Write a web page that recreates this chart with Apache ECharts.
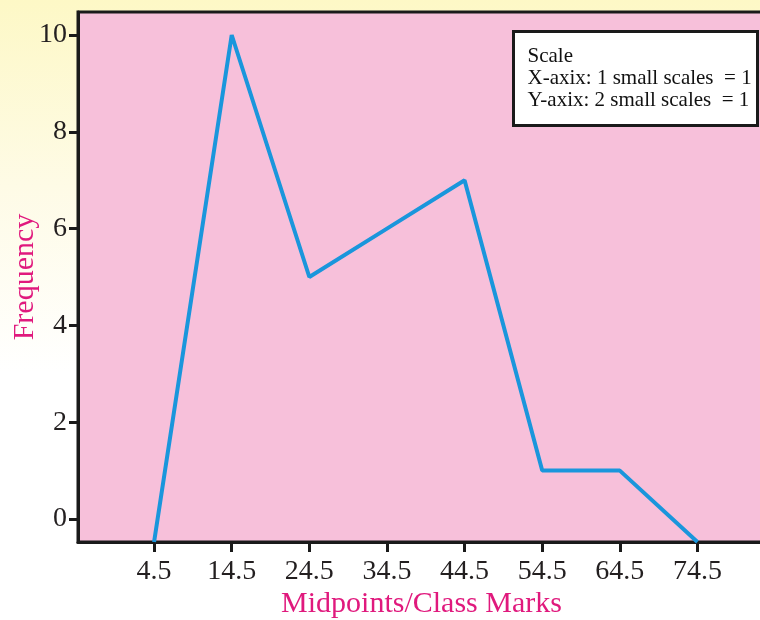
<!DOCTYPE html>
<html>
<head>
<meta charset="utf-8">
<script src="https://cdn.jsdelivr.net/npm/echarts@6/dist/echarts.min.js"></script>
<style>
html,body{margin:0;padding:0;}
#chart{width:760px;height:620px;}
</style>
</head>
<body>
<div id="chart"></div>
<script>
// Data
const midpoints = [4.5, 14.5, 24.5, 34.5, 44.5, 54.5, 64.5, 74.5];
const frequency = [-0.475, 10, 5, 6, 7, 1, 1, -0.475];
const xTicks = [4.5, 14.5, 24.5, 34.5, 44.5, 54.5, 64.5, 74.5];
const yTicks = [0, 2, 4, 6, 8, 10];
const xName = 'Midpoints/Class Marks';
const yName = 'Frequency';
const scaleLines = ['Scale', 'X-axix: 1 small scales  = 1', 'Y-axix: 2 small scales  = 1'];

const serif = '"Liberation Serif", "DejaVu Serif", serif';
const chart = echarts.init(document.getElementById('chart'));
chart.setOption({
  animation: false,
  backgroundColor: {
    type: 'linear', x: 0, y: 0, x2: 0, y2: 1,
    colorStops: [
      {offset: 0, color: '#fdf8c6'},
      {offset: 0.3, color: '#fefbe6'},
      {offset: 0.6, color: '#ffffff'},
      {offset: 1, color: '#ffffff'}
    ]
  },
  grid: {
    left: 78, right: -5, top: 12, bottom: 78,
    show: true, backgroundColor: '#f7c0da',
    borderColor: '#1a1a1a', borderWidth: 3,
    containLabel: false,
    outerBoundsMode: 'none'
  },
  xAxis: {
    type: 'value', min: -5.3, max: 83.2,
    name: xName, nameLocation: 'middle', nameGap: 47, nameMoveOverlap: false,
    nameTextStyle: {color: '#e0197d', fontSize: 30, fontFamily: serif},
    axisLine: {show: true, onZero: false, lineStyle: {color: '#1a1a1a', width: 3}},
    axisTick: {show: true, length: 10, customValues: xTicks, lineStyle: {color: '#1a1a1a', width: 3}},
    axisLabel: {customValues: xTicks, color: '#231f20', fontSize: 28, fontFamily: serif, margin: 16,
      formatter: v => v.toFixed(1)},
    splitLine: {show: false}
  },
  yAxis: {
    type: 'value', min: -0.475, max: 10.475,
    name: yName, nameLocation: 'middle', nameGap: 38, nameMoveOverlap: false,
    nameTextStyle: {color: '#e0197d', fontSize: 30, fontFamily: serif},
    axisLine: {show: true, onZero: false, lineStyle: {color: '#1a1a1a', width: 3}},
    axisTick: {show: true, length: 9, customValues: yTicks, lineStyle: {color: '#1a1a1a', width: 3}},
    axisLabel: {customValues: yTicks, color: '#231f20', fontSize: 28, fontFamily: serif, margin: 11},
    splitLine: {show: false}
  },
  series: [{
    type: 'line',
    data: midpoints.map((x, i) => [x, frequency[i]]),
    showSymbol: false,
    symbol: 'none',
    lineStyle: {color: '#1a96dc', width: 4},
    clip: true
  }],
  graphic: [{
    type: 'group', left: 512, top: 30,
    children: [
      {type: 'rect', shape: {x: 0, y: 0, width: 244, height: 94},
       style: {fill: '#ffffff', stroke: '#1a1a1a', lineWidth: 3}},
      {type: 'text', x: 14, y: 25, style: {text: scaleLines[0], font: '21px ' + serif, fill: '#111', verticalAlign: 'middle'}},
      {type: 'text', x: 14, y: 47, style: {text: scaleLines[1], font: '21px ' + serif, fill: '#111', verticalAlign: 'middle'}},
      {type: 'text', x: 14, y: 69, style: {text: scaleLines[2], font: '21px ' + serif, fill: '#111', verticalAlign: 'middle'}}
    ]
  }]
});
</script>
</body>
</html>
